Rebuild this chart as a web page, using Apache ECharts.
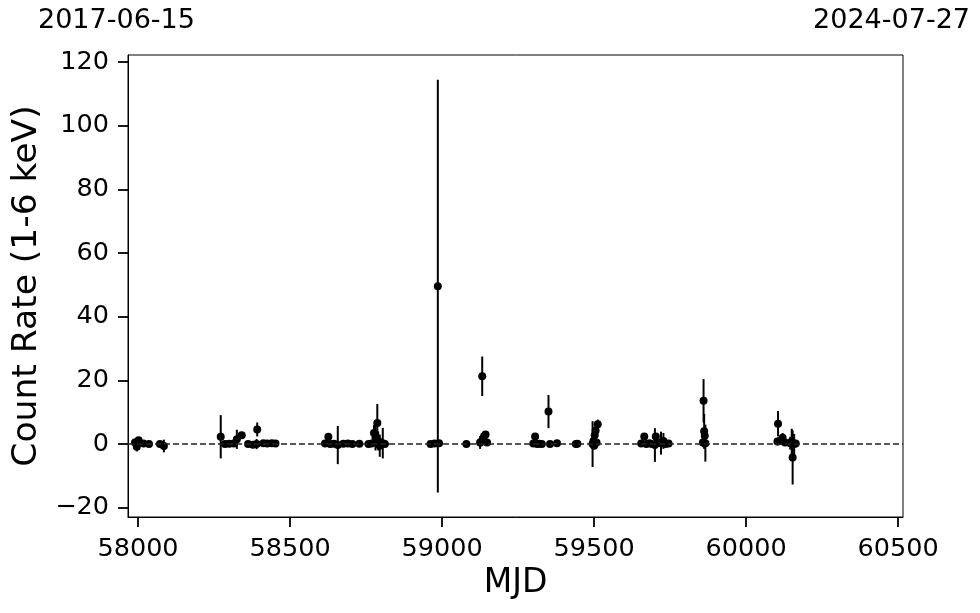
<!DOCTYPE html>
<html><head><meta charset="utf-8">
<script src="https://cdn.jsdelivr.net/npm/echarts@6/dist/echarts.min.js"></script>
<style>html,body{margin:0;padding:0;background:#fff}#c{width:980px;height:613px}</style>
</head><body><div id="c"></div>
<script>
const mjd = [57990,57996,58002,58018,58036,58072,58085,
  58272,58286,58300,58315,58325,58341,58362,58378,58390,58392,58412,58425,58440,58452,
  58615,58626,58632,58645,58657,58675,58690,58705,58728,58758,58768,58776,58781,58787,58790,58795,58800,58805,58812,
  58962,58975,58986,58990,59080,
  59125,59132,59130,59138,59143,59148,
  59300,59306,59313,59320,59328,59350,59355,59378,59440,59445,
  59495,59498,59502,59505,59508,59512,59500,
  59655,59665,59672,59682,59690,59700,59703,59712,59720,59728,59735,59745,
  59858,59860,59862,59864,59866,
  60103,60105,60112,60120,60128,60145,60150,60153,60158,60163];
const rate = [0.5,-0.8,1.2,0.2,0.0,0.0,-0.6,
  2.3,0.0,0.1,0.2,1.5,2.8,0.0,-0.2,0.0,4.6,0.3,0.2,0.3,0.2,
  0.2,2.3,0.0,0.1,-0.3,0.1,0.2,0.0,0.1,0.0,0.2,3.5,2.0,6.6,1.0,-0.5,0.2,0.3,0.0,
  0.0,0.2,49.6,0.3,0.0,
  0.5,21.3,0.8,2.5,3.0,0.5,
  0.2,2.4,0.0,0.1,0.0,10.2,0.0,0.3,0.0,0.1,
  0.0,1.0,2.8,4.3,0.5,6.2,-0.5,
  0.2,2.4,0.0,0.3,0.0,-0.3,2.4,0.5,0.3,1.0,0.0,0.2,
  0.5,13.6,4.0,2.6,0.3,
  0.8,6.4,1.0,2.0,0.5,0.3,0.8,-4.2,0.0,0.2];
const rateErr = [1.2,1.5,1.0,0.6,0.6,0.8,2.0,
  6.8,0.8,0.8,0.9,3.0,0.7,0.8,0.8,1.6,2.2,0.6,0.6,0.5,0.5,
  0.6,0.8,0.6,0.7,6.0,0.6,0.6,0.6,0.6,0.7,1.0,2.5,4.0,6.0,3.0,3.5,1.5,4.8,0.8,
  0.5,0.5,64.8,0.6,0.6,
  2.0,6.2,1.5,1.0,1.0,0.8,
  0.6,1.0,0.6,0.6,0.6,5.2,0.6,0.6,0.6,0.6,
  7.2,2.0,1.5,1.5,1.0,1.5,1.0,
  0.6,1.0,0.8,0.8,0.8,5.3,1.0,1.0,3.6,2.5,0.8,0.8,
  1.5,6.8,5.5,1.5,5.8,
  1.2,4.0,0.8,1.5,0.8,2.0,4.0,8.5,3.2,1.0];
const xTicks = [58000,58500,59000,59500,60000,60500];
const yTicks = [-20,0,20,40,60,80,100,120];
const dateLabels = ['2017-06-15','2024-07-27'];

const FONT = 'DejaVu Sans';
const pts = mjd.map((m,i)=>[m, rate[i]]);
const bars = mjd.map((m,i)=>[m, rate[i]-rateErr[i], rate[i]+rateErr[i]]);

const chart = echarts.init(document.getElementById('c'), null, {renderer:'canvas'});
chart.setOption({
  animation:false,
  backgroundColor:'#fff',
  grid:{left:128,right:77,top:55,bottom:96,show:true,borderColor:'#000',borderWidth:1,backgroundColor:'transparent'},
  xAxis:{type:'value',min:57967,max:60516,
    axisLine:{show:true,onZero:false,lineStyle:{color:'#000',width:1}},
    axisTick:{show:true,length:10,lineStyle:{color:'#000',width:1.8},customValues:xTicks},
    axisLabel:{fontSize:25.5,color:'#000',fontFamily:FONT,margin:19,customValues:xTicks,
      formatter:v=>String(v)},
    splitLine:{show:false},
    name:'MJD',nameLocation:'middle',nameGap:50,
    nameTextStyle:{fontSize:33,color:'#000',fontFamily:FONT}},
  yAxis:{type:'value',min:-22.9,max:122.2,
    axisLine:{show:true,onZero:false,lineStyle:{color:'#000',width:1}},
    axisTick:{show:true,length:10,lineStyle:{color:'#000',width:1.8},customValues:yTicks},
    axisLabel:{fontSize:25.5,color:'#000',fontFamily:FONT,margin:19,customValues:yTicks,
      formatter:v=> v<0 ? '\u2212'+Math.abs(v) : String(v)},
    splitLine:{show:false},
    name:'Count Rate (1-6 keV)',nameLocation:'middle',nameGap:80,nameRotate:90,
    nameTextStyle:{fontSize:34.5,color:'#000',fontFamily:FONT}},
  graphic:[
    {type:'text',left:38,top:7,style:{text:dateLabels[0],fontSize:27,fill:'#000',fontFamily:FONT}},
    {type:'text',right:10,top:7,style:{text:dateLabels[1],fontSize:27,fill:'#000',fontFamily:FONT}}
  ],
  series:[
    {type:'custom',data:bars,encode:{x:0,y:[1,2]},z:2,
      renderItem:function(params,api){
        const x=api.value(0);
        const a=api.coord([x,api.value(1)]), b=api.coord([x,api.value(2)]);
        return {type:'line',shape:{x1:a[0],y1:a[1],x2:b[0],y2:b[1]},style:{stroke:'#000',lineWidth:2}};
      }},
    {type:'scatter',data:pts,symbol:'circle',symbolSize:8,itemStyle:{color:'#000',opacity:1},z:3,
      markLine:{silent:true,symbol:'none',label:{show:false},
        lineStyle:{type:[6,3],color:'#222',width:1.5,opacity:1},
        data:[{yAxis:0}]}}
  ]
});
</script></body></html>
